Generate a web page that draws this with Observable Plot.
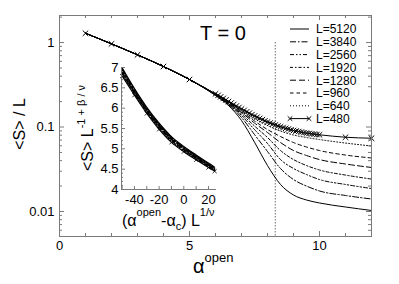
<!DOCTYPE html>
<html><head><meta charset="utf-8">
<script src="https://cdn.jsdelivr.net/npm/d3@7"></script>
<script src="https://cdn.jsdelivr.net/npm/@observablehq/plot@0.6"></script>
<style>
body{margin:0;background:#fff;}
#chart{position:relative;width:399px;height:284px;}
#chart svg{position:absolute;left:0;top:0;overflow:visible;}
</style></head><body><div id="chart"></div>
<script>
// ---------- data ----------
const sizes = ["5120","3840","2560","1920","1280","960","640","480"];
const alphaC = 8.3;
const alphaCommon = [1,2,3,4,5];
const sCommon = [1.288,0.965,0.715,0.520,0.365];
const alphaTail = [6,6.5,7,7.5,8,8.5,9,9.5,10,11,12];
const s5120 = [0.2360,0.1796,0.1194,0.0661,0.0350,0.0209,0.01568,0.01368,0.01261,0.01131,0.01028];
const s3840 = [0.2379,0.1846,0.1296,0.0815,0.0513,0.0323,0.0239,0.0200,0.0175,0.01547,0.01406];
const s2560 = [0.2392,0.1871,0.1368,0.0934,0.0638,0.0412,0.0323,0.0274,0.0239,0.0209,0.0187];
const s1920 = [0.2412,0.1897,0.1425,0.1028,0.0751,0.0527,0.0412,0.0350,0.0310,0.0270,0.0242];
const s1280 = [0.2425,0.1923,0.1485,0.1115,0.0861,0.0655,0.0527,0.0460,0.0412,0.0365,0.0332];
const s960  = [0.2445,0.1950,0.1526,0.1178,0.0934,0.0772,0.0655,0.0580,0.0527,0.0466,0.0430];
const s640  = [0.2458,0.1976,0.1568,0.1261,0.1042,0.0897,0.0804,0.0751,0.0711,0.0646,0.0596];
const alpha480 = [1,2,3,4,5,
  6.0,6.1,6.2,6.3,6.4,6.5,6.6,6.7,6.8,6.9,7.0,7.1,7.2,7.3,7.4,7.5,7.6,7.7,7.8,7.9,
  8.0,8.1,8.2,8.3,8.4,8.5,8.6,8.7,8.8,8.9,9.0,9.1,9.2,9.3,9.4,9.5,9.6,9.7,9.8,9.9,10.0,
  11,12];
const s480 = [1.288,0.965,0.715,0.520,0.365,
  0.2471,0.2373,0.2277,0.2181,0.2093,0.2003,0.1923,0.1846,0.1772,0.1701,0.1633,0.1572,0.1513,0.1457,0.1402,0.1350,0.1306,0.1265,0.1223,0.1184,
  0.1146,0.1115,0.1085,0.1059,0.1030,0.1006,0.0987,0.0965,0.0947,0.0927,0.0909,0.0897,0.0885,0.0870,0.0858,0.0847,0.0840,0.0831,0.0824,0.0815,0.0809,
  0.0757,0.0737];

// inset (scaling collapse)
const insetX = [-50,-40,-30,-20,-10,0,10,20,25];
const i5120 = [6.99,6.48,6.02,5.63,5.30,5.06,4.85,4.65,4.55];
const i3840 = [6.96,6.46,6.00,5.61,5.28,5.04,4.83,4.63,4.53];
const i2560 = [6.93,6.44,5.98,5.59,5.27,5.03,4.82,4.62,4.52];
const i1920 = [6.90,6.41,5.96,5.57,5.25,5.01,4.80,4.60,4.50];
const i1280 = [6.87,6.39,5.94,5.55,5.23,4.99,4.78,4.59,4.49];
const i960  = [6.85,6.37,5.92,5.53,5.21,4.97,4.77,4.57,4.48];
const i640  = [6.82,6.35,5.90,5.51,5.19,4.95,4.75,4.56,4.47];
const i480  = [6.79,6.32,5.87,5.48,5.16,4.93,4.73,4.54,4.45];

// ticks
const xMajor = [0,5,10];
const xMinor = [0,1,2,3,4,5,6,7,8,9,10,11,12];
const yMajor = [0.01,0.1,1];
const yMinor = [0.006,0.007,0.008,0.009,0.02,0.03,0.04,0.05,0.06,0.07,0.08,0.09,0.2,0.3,0.4,0.5,0.6,0.7,0.8,0.9,2];
const insetXTicks = [-40,-20,0,20];
const insetXMinor = [-50,-40,-30,-20,-10,0,10,20];
const insetYTicks = [4,4.5,5,5.5,6,6.5,7];
const insetYMinor = [4.1,4.2,4.3,4.4,4.6,4.7,4.8,4.9,5.1,5.2,5.3,5.4,5.6,5.7,5.8,5.9,6.1,6.2,6.3,6.4,6.6,6.7,6.8,6.9];

// ---------- styles ----------
const FONT = '"Liberation Sans", Arial, Helvetica, sans-serif';
const dashPatterns = [null,"6,2,1.5,2","4,2,1.5,2,1.5,2","3,2,1.5,2","6,3","3.5,3","1,2",null];
const axisGray = "#7a7a7a";
const W = 399, H = 284;
const mL = 59, mR = 28, mT = 15, mB = 48;
const pW = W - mL - mR, pH = H - mT - mB;

const mainTails = [s5120,s3840,s2560,s1920,s1280,s960,s640];
const lineMarks = mainTails.map((tail,i) => {
  const rows = alphaCommon.map((a,j)=>({a, s:sCommon[j]}))
    .concat(alphaTail.map((a,j)=>({a, s:tail[j]})));
  const opts = {x:"a", y:"s", stroke:"#000", strokeWidth:1, curve:"monotone-x"};
  if (dashPatterns[i]) opts.strokeDasharray = dashPatterns[i];
  return Plot.line(rows, opts);
});
const rows480 = alpha480.map((a,j)=>({a, s:s480[j]}));

const main = Plot.plot({
  width: W, height: H,
  marginLeft: mL, marginRight: mR, marginTop: mT, marginBottom: mB,
  style: {fontFamily: FONT, fontSize: "13px", background: "transparent", color: "#000"},
  x: {domain: [0,12], label: null},
  y: {type: "log", domain: [0.00506, 2.09], label: null},
  marks: [
    Plot.ruleX([alphaC], {y1: 1, y2: 0.00506, stroke: "#888", strokeWidth: 1.2, strokeDasharray: "1.5,1.5"}),
    ...lineMarks,
    Plot.line(rows480, {x:"a", y:"s", stroke:"#000", strokeWidth:1, curve:"monotone-x"}),
    Plot.dot(rows480, {x:"a", y:"s", symbol:"times", r:2.6, stroke:"#000", strokeWidth:1}),
    Plot.frame({stroke: axisGray}),
    // inward ticks
    Plot.ruleX(xMinor, {insetTop: pH-3, stroke: axisGray}),
    Plot.ruleX(xMinor, {insetBottom: pH-3, stroke: axisGray}),
    Plot.ruleX(xMajor, {insetTop: pH-5, stroke: axisGray}),
    Plot.ruleX(xMajor, {insetBottom: pH-5, stroke: axisGray}),
    Plot.ruleY(yMinor, {insetRight: pW-3, stroke: axisGray}),
    Plot.ruleY(yMinor, {insetLeft: pW-3, stroke: axisGray}),
    Plot.ruleY(yMajor, {insetRight: pW-5, stroke: axisGray}),
    Plot.ruleY(yMajor, {insetLeft: pW-5, stroke: axisGray}),
    Plot.axisX({ticks: xMajor, tickSize: 0, tickPadding: 4, tickFormat: d => String(d), label: null, fontSize: 13}),
    Plot.axisY({ticks: yMajor, tickSize: 0, tickPadding: 5, tickFormat: d => String(d), label: null, fontSize: 13})
  ]
});

// ---------- inset ----------
const iL = 121, iR = 183, iT = 67, iB = 95;
const ipW = W - iL - iR, ipH = H - iT - iB;
const insetSeries = [i5120,i3840,i2560,i1920,i1280,i960,i640,i480];
const insetLines = insetSeries.map((ys,i) => {
  const rows = insetX.map((x,j)=>({x, y:ys[j]}));
  const opts = {x:"x", y:"y", stroke:"#000", strokeWidth:1.2, curve:"monotone-x"};
  if (dashPatterns[i]) opts.strokeDasharray = dashPatterns[i];
  return Plot.line(rows, opts);
});
const insetRows480 = insetX.map((x,j)=>({x, y:i480[j]}));

const inset = Plot.plot({
  width: W, height: H,
  marginLeft: iL, marginRight: iR, marginTop: iT, marginBottom: iB,
  style: {fontFamily: FONT, fontSize: "13px", background: "transparent", color: "#000"},
  x: {domain: [-50.5, 26.5], label: null},
  y: {domain: [4, 7], label: null},
  marks: [
    ...insetLines,
    Plot.dot(insetRows480, {x:"x", y:"y", symbol:"times", r:2, stroke:"#000", strokeWidth:0.8}),
    Plot.ruleX([-50.5], {stroke: axisGray}),
    Plot.ruleY([4], {stroke: axisGray}),
    Plot.ruleY(insetYMinor, {insetRight: ipW-2, stroke: axisGray}),
    Plot.ruleY(insetYTicks, {insetRight: ipW-4, stroke: axisGray}),
    Plot.ruleX(insetXMinor, {insetTop: ipH-3, stroke: axisGray}),
    Plot.axisX({ticks: insetXTicks, tickSize: 0, tickPadding: 5, tickFormat: d => String(d), label: null, fontSize: 13}),
    Plot.axisY({ticks: insetYTicks, tickSize: 0, tickPadding: 3, tickFormat: d => String(d), label: null, fontSize: 13})
  ]
});

const chart = document.getElementById("chart");
chart.appendChild(main);
chart.appendChild(inset);

// ---------- annotations ----------
const ms = d3.select(main);
ms.append("text").attr("x", 200).attr("y", 39.5).attr("text-anchor", "start")
  .attr("font-family", FONT).attr("font-size", 20).text("T = 0");

// main y label
ms.append("text").attr("transform", "translate(25,124) rotate(-90)").attr("text-anchor", "middle")
  .attr("font-family", FONT).attr("font-size", 16).text("<S> / L");

// main x label
const xl = ms.append("text").attr("x", 193).attr("y", 273).attr("text-anchor", "start")
  .attr("font-family", FONT).attr("font-size", 20);
xl.append("tspan").text("α");
xl.append("tspan").attr("font-size", 13).attr("dy", -11).text("open");

// legend
const lg = ms.append("g").attr("font-family", FONT).attr("font-size", 12).attr("text-anchor", "start");
sizes.forEach((L,i) => {
  const y = 29 + i*12.8;
  const ln = lg.append("line").attr("x1", 290).attr("x2", 309).attr("y1", y).attr("y2", y)
    .attr("stroke", "#000").attr("stroke-width", 1);
  if (dashPatterns[i]) ln.attr("stroke-dasharray", dashPatterns[i]);
  lg.append("text").attr("x", 316).attr("y", y).attr("dy", "0.36em").text("L=" + L);
  if (L === "480") {
    [290, 309].forEach(x => lg.append("path")
      .attr("d", `M${x-2.3},${y-2.3}L${x+2.3},${y+2.3}M${x-2.3},${y+2.3}L${x+2.3},${y-2.3}`)
      .attr("stroke", "#000").attr("stroke-width", 1));
  }
});

// inset labels
const is = d3.select(inset);
const iy = is.append("text").attr("transform", "translate(93,128) rotate(-90)").attr("text-anchor", "middle")
  .attr("font-family", FONT).attr("font-size", 16);
iy.append("tspan").text("<S> L");
iy.append("tspan").attr("font-size", 11).attr("dy", -8).text("-1 + β / ν");

const ix = is.append("text").attr("x", 122).attr("y", 226).attr("text-anchor", "start")
  .attr("font-family", FONT).attr("font-size", 16);
ix.append("tspan").text("(α");
ix.append("tspan").attr("font-size", 11).attr("dy", -10).text("open");
ix.append("tspan").attr("dy", 10).text("-α");
ix.append("tspan").attr("font-size", 11).attr("dy", 4).text("c");
ix.append("tspan").attr("dy", -4).text(") L");
ix.append("tspan").attr("font-size", 11).attr("dy", -10).text("1/ν");
</script></body></html>
